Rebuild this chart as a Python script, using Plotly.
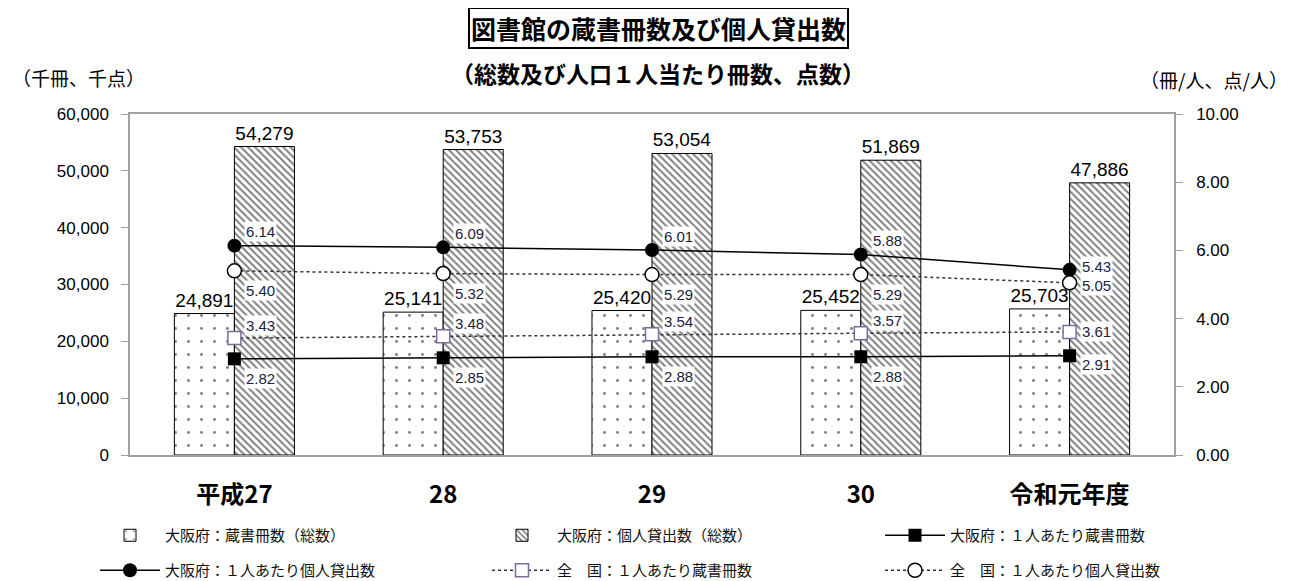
import plotly.graph_objects as go

categories = ["平成27", "28", "29", "30", "令和元年度"]
osaka_books_total = [24891, 25141, 25420, 25452, 25703]
osaka_loans_total = [54279, 53753, 53054, 51869, 47886]
osaka_books_pc = [2.82, 2.85, 2.88, 2.88, 2.91]
osaka_loans_pc = [6.14, 6.09, 6.01, 5.88, 5.43]
nat_books_pc = [3.43, 3.48, 3.54, 3.57, 3.61]
nat_loans_pc = [5.40, 5.32, 5.29, 5.29, 5.05]

JP = "Noto Sans CJK JP"
NUM = "Liberation Sans"

OFF = 8  # page body margin
W, H = 1297 - OFF, 581 - OFF
L, T = 130 - OFF, 114 - OFF
R = W - (1174 - OFF)
B = H - (455 - OFF)
pw, ph = W - L - R, H - T - B

def px_x(px):
    return (px - OFF - L) / pw

def px_y(py):
    return (H - B - (py - OFF)) / ph

fig = go.Figure()

fig.add_trace(go.Bar(
    x=categories, y=osaka_books_total, name="大阪府：蔵書冊数（総数）",
    marker=dict(color="white", line=dict(color="black", width=1),
                pattern=dict(shape=".", fgcolor="black", bgcolor="white", size=13, solidity=0.04)),
    text=[f"{v:,}" for v in osaka_books_total], textposition="outside", constraintext="none",
    textfont=dict(family=NUM, size=19, color="black"), cliponaxis=False,
    legend="legend", showlegend=True,
))
fig.add_trace(go.Bar(
    x=categories, y=osaka_loans_total, name="大阪府：個人貸出数（総数）",
    marker=dict(color="white", line=dict(color="black", width=1),
                pattern=dict(shape="\\", fgcolor="black", bgcolor="white", size=5, solidity=0.4)),
    text=[f"{v:,}" for v in osaka_loans_total], textposition="outside", constraintext="none",
    textfont=dict(family=NUM, size=19, color="black"), cliponaxis=False,
    legend="legend2", showlegend=True,
))
fig.add_trace(go.Scatter(
    x=categories, y=osaka_books_pc, yaxis="y2", name="大阪府：１人あたり蔵書冊数",
    mode="lines+markers", line=dict(color="black", width=1.5),
    marker=dict(symbol="square", size=13, color="black"), cliponaxis=False,
    legend="legend3", showlegend=True,
))
fig.add_trace(go.Scatter(
    x=categories, y=osaka_loans_pc, yaxis="y2", name="大阪府：１人あたり個人貸出数",
    mode="lines+markers", line=dict(color="black", width=1.5),
    marker=dict(symbol="circle", size=14, color="black"), cliponaxis=False,
    legend="legend4", showlegend=True,
))
fig.add_trace(go.Scatter(
    x=categories, y=nat_books_pc, yaxis="y2", name="全　国：１人あたり蔵書冊数",
    mode="lines+markers", line=dict(color="#333333", width=1.5, dash="dot"),
    marker=dict(symbol="square", size=13, color="white", line=dict(color="#7F6A9F", width=1.5)),
    cliponaxis=False, legend="legend5", showlegend=True,
))
fig.add_trace(go.Scatter(
    x=categories, y=nat_loans_pc, yaxis="y2", name="全　国：１人あたり個人貸出数",
    mode="lines+markers", line=dict(color="#333333", width=1.5, dash="dot"),
    marker=dict(symbol="circle", size=14, color="white", line=dict(color="black", width=1.5)),
    cliponaxis=False, legend="legend6", showlegend=True,
))

annotations = []
label_color = "#1c2340"

def add_labels(vals, yshifts):
    for i, v in enumerate(vals):
        annotations.append(dict(
            x=i, y=v, xref="x", yref="y2", text=f"{v:.2f}", showarrow=False,
            xanchor="left", yanchor="middle", xshift=10, yshift=yshifts[i],
            font=dict(family=NUM, size=15, color=label_color), bgcolor="white", borderpad=1,
        ))

add_labels(osaka_loans_pc, [14, 14, 14, 14, 3])
add_labels(nat_loans_pc, [-20, -20, -20, -20, -3])
add_labels(nat_books_pc, [13, 13, 13, 13, 0])
add_labels(osaka_books_pc, [-20, -20, -20, -20, -9])

annotations += [
    dict(text="<b>図書館の蔵書冊数及び個人貸出数</b>", x=px_x(658), y=px_y(28), xref="paper", yref="paper",
         showarrow=False, font=dict(family=JP, size=25, color="black"),
         bordercolor="black", borderwidth=2, bgcolor="white", borderpad=1,
         yanchor="middle", xanchor="center"),
    dict(text="<b>（総数及び人口１人当たり冊数、点数）</b>", x=px_x(658), y=px_y(73), xref="paper", yref="paper",
         showarrow=False, font=dict(family=JP, size=23, color="black"),
         yanchor="middle", xanchor="center"),
    dict(text="（千冊、千点）", x=px_x(10), y=px_y(77), xref="paper", yref="paper",
         showarrow=False, font=dict(family=JP, size=19, color="black"),
         yanchor="middle", xanchor="left"),
    dict(text="（冊/人、点/人）", x=px_x(1290), y=px_y(79), xref="paper", yref="paper",
         showarrow=False, font=dict(family=JP, size=19, color="black"),
         yanchor="middle", xanchor="right"),
]

legend_pos = {
    "legend": (95, 519), "legend2": (487, 519), "legend3": (880, 519),
    "legend4": (95, 554), "legend5": (487, 554), "legend6": (880, 554),
}
legends = {}
for key, (lx, ly) in legend_pos.items():
    legends[key] = dict(
        orientation="h", x=px_x(lx), y=px_y(ly), xanchor="left", yanchor="top",
        itemwidth=60, font=dict(family=JP, size=15, color="#111111"),
        bgcolor="rgba(0,0,0,0)",
    )

fig.update_layout(
    width=W, height=H,
    margin=dict(l=L, r=R, t=T, b=B, autoexpand=False),
    paper_bgcolor="white", plot_bgcolor="white",
    showlegend=True,
    barmode="group", bargap=0.425, bargroupgap=0,
    annotations=annotations,
    font=dict(family=NUM, color="black"),
    xaxis=dict(
        type="category", tickangle=0, range=[-0.5, 4.5],
        showline=True, linecolor="#A0A0A0", linewidth=1.5, mirror=True,
        ticks="", tickfont=dict(family=JP, size=24, color="black", weight="bold"),
        showgrid=False, ticklabelstandoff=17, automargin=False,
    ),
    yaxis=dict(
        range=[0, 60000], dtick=10000, tickformat=",d", automargin=False,
        showline=True, linecolor="#A0A0A0", linewidth=1.5, ticks="outside",
        ticklen=7, tickcolor="#A0A0A0", showgrid=False, zeroline=False,
        tickfont=dict(family=NUM, size=17, color="black"), ticklabelstandoff=9,
    ),
    yaxis2=dict(
        range=[0, 10], dtick=2, tickformat=".2f", overlaying="y", side="right",
        automargin=False,
        showline=True, linecolor="#A0A0A0", linewidth=1.5, ticks="outside",
        ticklen=7, tickcolor="#A0A0A0", showgrid=False, zeroline=False,
        tickfont=dict(family=NUM, size=17, color="black"), ticklabelstandoff=10,
    ),
    **legends,
)

fig.write_html("out.html")
